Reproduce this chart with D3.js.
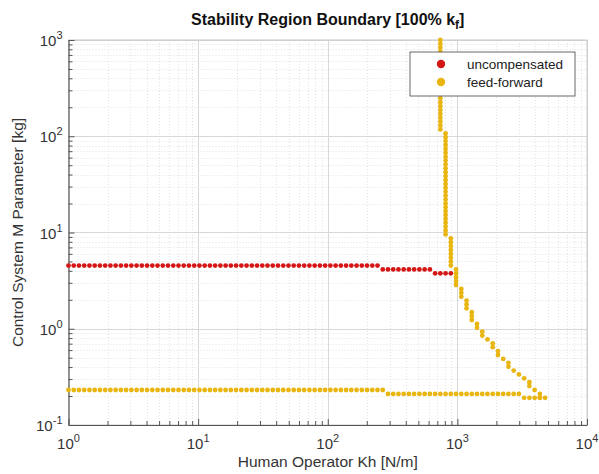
<!DOCTYPE html>
<html>
<head>
<meta charset="utf-8">
<script src="https://cdn.jsdelivr.net/npm/d3@7"></script>
<style>
  body { margin: 0; background: #fff; }
  text { font-family: "Liberation Sans", Arial, sans-serif; }
</style>
</head>
<body>
<script>
// Size of the figure and plot box
var width = 599,
    height = 474;
var margin = {left: 68.5, right: 12, top: 40, bottom: 49};

// Sweep grid used to find the boundary: log10 bounds and number of samples
var khExp = [0, 4],
    mExp = [-1, 3],
    gridN = 100;

// Uncompensated boundary, runs on the grid: [khIdxFrom, khIdxTo, mIdx]
var uncompRuns = [[0, 59, 41], [60, 69, 40], [70, 73, 39]];

// Feed-forward boundary, runs on the grid: [khIdxFrom, khIdxTo, mIdxFrom, mIdxTo]
var ffRuns = [
  [0, 60, 9, 9], [61, 86, 8, 8], [87, 91, 7, 7],
  [71, 71, 76, 99], [72, 72, 49, 75], [73, 73, 41, 48], [74, 74, 36, 40],
  [75, 75, 33, 35], [76, 76, 30, 32], [77, 77, 27, 29], [78, 78, 25, 26],
  [79, 79, 23, 24], [80, 80, 22, 22], [81, 81, 20, 21], [82, 82, 18, 19],
  [83, 83, 17, 17], [84, 84, 15, 16], [85, 85, 14, 14], [86, 86, 13, 13],
  [87, 87, 12, 12], [88, 88, 10, 11], [89, 89, 9, 9], [90, 90, 7, 8]
];

var xTickExps = [0, 1, 2, 3, 4],
    yTickExps = [-1, 0, 1, 2, 3];

var seriesNames = ["uncompensated", "feed-forward"],
    seriesColors = ["#d41616", "#e9b511"];

var titleText = "Stability Region Boundary [100% k",
    titleSub = "f",
    xLabel = "Human Operator Kh [N/m]",
    yLabel = "Control System M Parameter [kg]";

// grid value lookup
function khAt(i) { return Math.pow(10, khExp[0] + i * (khExp[1] - khExp[0]) / (gridN - 1)); }
function mAt(j) { return Math.pow(10, mExp[0] + j * (mExp[1] - mExp[0]) / (gridN - 1)); }

function runPoints(runs) {
  var pts = [];
  runs.forEach(function(r) {
    var j0 = r[2], j1 = r.length > 3 ? r[3] : r[2];
    for (var i = r[0]; i <= r[1]; i++)
      for (var j = j0; j <= j1; j++) pts.push([khAt(i), mAt(j)]);
  });
  return pts;
}

var uncompPts = runPoints(uncompRuns),
    ffPts = runPoints(ffRuns);

var svg = d3.select("body").append("svg")
    .attr("width", width)
    .attr("height", height);

var x = d3.scaleLog()
    .domain([Math.pow(10, xTickExps[0]), Math.pow(10, xTickExps[4])])
    .range([margin.left, width - margin.right]);

var y = d3.scaleLog()
    .domain([Math.pow(10, yTickExps[0]), Math.pow(10, yTickExps[4])])
    .range([height - margin.bottom, margin.top]);

var x0 = x.range()[0], x1 = x.range()[1],
    y0 = y.range()[0], y1 = y.range()[1];

// minor + major values
var xMinor = x.ticks(), yMinor = y.ticks();
function isMajor(v) { return Math.abs(Math.log10(v) - Math.round(Math.log10(v))) < 1e-9; }

// Grid lines
var grid = svg.append("g");
grid.selectAll(".gx").data(xMinor).enter().append("line")
    .attr("x1", function(d) { return Math.round(x(d)) + 0.5; })
    .attr("x2", function(d) { return Math.round(x(d)) + 0.5; })
    .attr("y1", y1).attr("y2", y0)
    .attr("stroke", function(d) { return isMajor(d) ? "#d8d8d8" : "#e2e2e2"; })
    .attr("stroke-dasharray", function(d) { return isMajor(d) ? null : "1,2"; });
grid.selectAll(".gy").data(yMinor).enter().append("line")
    .attr("y1", function(d) { return Math.round(y(d)) + 0.5; })
    .attr("y2", function(d) { return Math.round(y(d)) + 0.5; })
    .attr("x1", x0).attr("x2", x1)
    .attr("stroke", function(d) { return isMajor(d) ? "#d8d8d8" : "#e2e2e2"; })
    .attr("stroke-dasharray", function(d) { return isMajor(d) ? null : "1,2"; });

// Box
svg.append("rect")
    .attr("x", x0).attr("y", y1)
    .attr("width", x1 - x0).attr("height", y0 - y1)
    .attr("fill", "none").attr("stroke", "#c8c8c8");

// Axes (ticks inside)
var xAxis = svg.append("g")
    .attr("transform", "translate(0," + y0 + ")")
    .call(d3.axisBottom(x).tickValues(xMinor).tickSizeInner(-4).tickSizeOuter(0).tickFormat(""));
xAxis.selectAll(".tick line").attr("y2", function(d) { return isMajor(d) ? -6 : -4; });
var yAxis = svg.append("g")
    .attr("transform", "translate(" + x0 + ",0)")
    .call(d3.axisLeft(y).tickValues(yMinor).tickSizeInner(-4).tickSizeOuter(0).tickFormat(""));
yAxis.selectAll(".tick line").attr("x2", function(d) { return isMajor(d) ? 6 : 4; });
[xAxis, yAxis].forEach(function(a) {
  a.select(".domain").attr("stroke", "#555");
  a.selectAll(".tick line").attr("stroke", "#555");
});

// Tick labels: 10^n
xTickExps.forEach(function(e) {
  var t = svg.append("text")
      .attr("x", x(Math.pow(10, e)))
      .attr("y", y0 + 24)
      .attr("text-anchor", "middle")
      .attr("font-size", 15)
      .attr("fill", "#333");
  t.append("tspan").text("10");
  t.append("tspan").attr("dy", -7).attr("font-size", 11).text(e);
});
yTickExps.forEach(function(e) {
  var t = svg.append("text")
      .attr("x", x0 - 6)
      .attr("y", y(Math.pow(10, e)) + 6)
      .attr("text-anchor", "end")
      .attr("font-size", 15)
      .attr("fill", "#333");
  t.append("tspan").text("10");
  t.append("tspan").attr("dy", -7).attr("font-size", 11).text(e);
});

// Data points
var plot = svg.append("g");
plot.selectAll(".uc").data(uncompPts).enter().append("circle")
    .attr("cx", function(d) { return x(d[0]); })
    .attr("cy", function(d) { return y(d[1]); })
    .attr("r", 2.4)
    .attr("fill", seriesColors[0]);
plot.selectAll(".ff").data(ffPts).enter().append("circle")
    .attr("cx", function(d) { return x(d[0]); })
    .attr("cy", function(d) { return y(d[1]); })
    .attr("r", 2.4)
    .attr("fill", seriesColors[1]);

// Legend
var legend = svg.append("g").attr("transform", "translate(410,52)");
legend.append("rect")
    .attr("width", 165).attr("height", 44)
    .attr("fill", "#fff").attr("stroke", "#444").attr("stroke-width", 0.8);
seriesNames.forEach(function(n, i) {
  legend.append("circle")
      .attr("cx", 31).attr("cy", 12 + i * 18)
      .attr("r", 4.2).attr("fill", seriesColors[i]);
  legend.append("text")
      .attr("x", 57).attr("y", 17 + i * 18)
      .attr("font-size", 13.5).attr("fill", "#222")
      .text(n);
});

// Title
var title = svg.append("text")
    .attr("x", (x0 + x1) / 2)
    .attr("y", 25)
    .attr("text-anchor", "middle")
    .attr("font-size", 16)
    .attr("font-weight", "bold")
    .attr("fill", "#111");
title.append("tspan").text(titleText);
title.append("tspan").attr("dy", 4).attr("font-size", 12).text(titleSub);
title.append("tspan").attr("dy", -4).text("]");

// Axis labels
svg.append("text")
    .attr("x", (x0 + x1) / 2)
    .attr("y", 467)
    .attr("text-anchor", "middle")
    .attr("font-size", 15.5)
    .attr("fill", "#333")
    .text(xLabel);
svg.append("text")
    .attr("transform", "translate(23," + ((y0 + y1) / 2) + ") rotate(-90)")
    .attr("text-anchor", "middle")
    .attr("font-size", 15.5)
    .attr("fill", "#333")
    .text(yLabel);
</script>
</body>
</html>
